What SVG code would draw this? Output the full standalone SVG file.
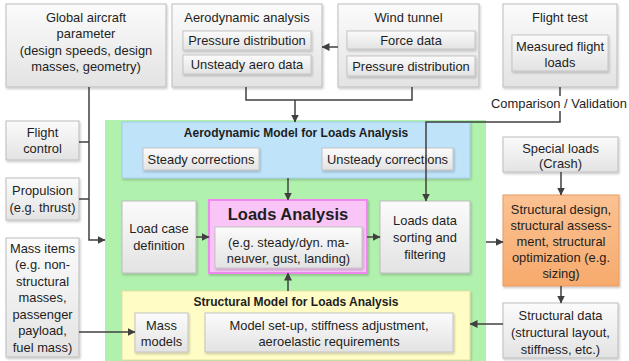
<svg xmlns="http://www.w3.org/2000/svg" width="629" height="361" viewBox="0 0 629 361">
  <defs>
    <linearGradient id="gBox" x1="0" y1="0" x2="0" y2="1">
      <stop offset="0" stop-color="#fbfbfb"/>
      <stop offset="1" stop-color="#e3e3e3"/>
    </linearGradient>
    <linearGradient id="gOrange" x1="0" y1="0" x2="0" y2="1">
      <stop offset="0" stop-color="#fbc293"/>
      <stop offset="1" stop-color="#f7aa6c"/>
    </linearGradient>
    <filter id="shadow" x="-10%" y="-10%" width="125%" height="130%">
      <feDropShadow dx="1" dy="1.5" stdDeviation="1" flood-color="#000" flood-opacity="0.22"/>
    </filter>
    <marker id="arrow" viewBox="0 0 8 8" refX="7.5" refY="4" markerWidth="8" markerHeight="8" markerUnits="userSpaceOnUse" orient="auto">
      <path d="M0,0 L8,4 L0,8 z" fill="#404040"/>
    </marker>
  </defs>
  <style>
    text { font-family: "Liberation Sans", Arial, sans-serif; font-size: 12.9px; fill: #1e1e1e; text-anchor: middle; }
    .title { font-weight: bold; font-size: 12px; }
    .big { font-weight: bold; font-size: 16.5px; }
    .box { fill: url(#gBox); stroke: #bdbdbd; stroke-width: 1; filter: url(#shadow); }
    .inner { fill: url(#gBox); stroke: #c4c4c4; stroke-width: 1; filter: url(#shadow); }
    .conn { fill: none; stroke: #404040; stroke-width: 1.5; }
    .arr { marker-end: url(#arrow); }
  </style>

  <!-- central loads environment -->
  <g id="loads-environment">
    <rect x="105" y="120" width="381" height="243" fill="#b1f1ae"/>
  </g>

  <!-- inputs across the top -->
  <g id="global-aircraft">
    <rect class="box" x="6" y="4" width="160" height="83"/>
    <text x="86" y="21.5">Global aircraft</text>
    <text x="86" y="38">parameter</text>
    <text x="86" y="54.5">(design speeds, design</text>
    <text x="86" y="71">masses, geometry)</text>
  </g>

  <g id="aero-analysis">
    <rect class="box" x="172" y="4" width="150" height="83"/>
    <text x="247" y="21.5">Aerodynamic analysis</text>
    <rect class="inner" x="183" y="31" width="128" height="19"/>
    <text x="247" y="45">Pressure distribution</text>
    <rect class="inner" x="183" y="55" width="128" height="19"/>
    <text x="247" y="69">Unsteady aero data</text>
  </g>

  <g id="wind-tunnel">
    <rect class="box" x="338" y="4" width="141" height="83"/>
    <text x="408.5" y="21.5">Wind tunnel</text>
    <rect class="inner" x="347" y="31" width="128" height="18"/>
    <text x="411" y="44.5">Force data</text>
    <rect class="inner" x="347" y="56" width="128" height="20"/>
    <text x="411" y="70.5">Pressure distribution</text>
  </g>

  <g id="flight-test">
    <rect class="box" x="503" y="4" width="114" height="83"/>
    <text x="560" y="21.5">Flight test</text>
    <rect class="inner" x="512" y="35" width="96" height="36"/>
    <text x="560" y="50.5">Measured flight</text>
    <text x="560" y="66.5">loads</text>
  </g>

  <!-- inputs on the left -->
  <g id="flight-control">
    <rect class="box" x="6" y="121" width="73" height="39"/>
    <text x="42.5" y="136.5">Flight</text>
    <text x="42.5" y="152.5">control</text>
  </g>

  <g id="propulsion">
    <rect class="box" x="6" y="178" width="73" height="42"/>
    <text x="42.5" y="194.5">Propulsion</text>
    <text x="42.5" y="211.5">(e.g. thrust)</text>
  </g>

  <g id="mass-items">
    <rect class="box" x="6" y="238" width="73" height="119"/>
    <text x="42.5" y="252.5">Mass items</text>
    <text x="42.5" y="269">(e.g. non-</text>
    <text x="42.5" y="285.5">structural</text>
    <text x="42.5" y="302">masses,</text>
    <text x="42.5" y="318.5">passenger</text>
    <text x="42.5" y="335">payload,</text>
    <text x="42.5" y="351.5">fuel mass)</text>
  </g>

  <!-- aerodynamic model -->
  <g id="aero-model">
    <rect x="122" y="122" width="348" height="56" fill="#bfe3f9" stroke="#a3cdea" stroke-width="1" filter="url(#shadow)"/>
    <text class="title" x="296" y="137.2">Aerodynamic Model for Loads Analysis</text>
    <rect class="inner" x="143" y="148" width="116" height="22"/>
    <text x="201" y="163.5">Steady corrections</text>
    <rect class="inner" x="322" y="148" width="131" height="22"/>
    <text x="387.5" y="163.5">Unsteady corrections</text>
  </g>

  <g id="load-case">
    <rect class="box" x="122" y="201" width="74" height="72"/>
    <text x="159" y="232.5">Load case</text>
    <text x="159" y="249.5">definition</text>
  </g>

  <g id="loads-analysis">
    <rect x="209" y="200" width="158" height="73" fill="#f9c5f7" stroke="#ee8aec" stroke-width="2" filter="url(#shadow)"/>
    <text class="big" x="288" y="220">Loads Analysis</text>
    <rect class="inner" x="215" y="227" width="147" height="41"/>
    <text x="288.5" y="246.5">(e.g. steady/dyn. ma-</text>
    <text x="288.5" y="262.5">neuver, gust, landing)</text>
  </g>

  <g id="loads-data">
    <rect class="box" x="380" y="201" width="90" height="72"/>
    <text x="425" y="224.5">Loads data</text>
    <text x="425" y="241.5">sorting and</text>
    <text x="425" y="258.5">filtering</text>
  </g>

  <!-- structural model -->
  <g id="structural-model">
    <rect x="122" y="291" width="348" height="69" fill="#fffcc6" stroke="#e8e0a2" stroke-width="1" filter="url(#shadow)"/>
    <text class="title" x="296" y="306.2">Structural Model for Loads Analysis</text>
    <rect class="inner" x="135" y="313" width="53" height="39"/>
    <text x="161.5" y="329.5">Mass</text>
    <text x="161.5" y="345.5">models</text>
    <rect class="inner" x="205" y="313" width="248" height="39"/>
    <text x="329" y="329.5">Model set-up, stiffness adjustment,</text>
    <text x="329" y="345.5">aeroelastic requirements</text>
  </g>

  <!-- structural side -->
  <g id="special-loads">
    <rect class="box" x="503" y="137" width="115" height="35"/>
    <text x="560.5" y="152.5">Special loads</text>
    <text x="560.5" y="167.5">(Crash)</text>
  </g>

  <g id="structural-design">
    <rect x="503" y="195" width="116" height="91" fill="url(#gOrange)" stroke="#e59b62" stroke-width="1" filter="url(#shadow)"/>
    <text x="561" y="213.5">Structural design,</text>
    <text x="561" y="229.5">structural assess-</text>
    <text x="561" y="245.5">ment, structural</text>
    <text x="561" y="261.5">optimization (e.g.</text>
    <text x="561" y="277.5">sizing)</text>
  </g>

  <g id="structural-data">
    <rect class="box" x="503" y="303" width="115" height="55"/>
    <text x="560.5" y="319.5">Structural data</text>
    <text x="560.5" y="336.5">(structural layout,</text>
    <text x="560.5" y="353.5">stiffness, etc.)</text>
  </g>

  <!-- connectors -->
  <g id="connectors">
    <path class="conn arr" d="M89,87 V240 H105"/>
    <path class="conn" d="M79,142 H89"/>
    <path class="conn" d="M79,199 H89"/>
    <path class="conn arr" d="M79,332 H135"/>
    <path class="conn" d="M246,87 V100 H412 V87"/>
    <path class="conn arr" d="M295,100 V122"/>
    <path class="conn arr" d="M338,47 H322"/>
    <path class="conn" d="M560,87 V96"/>
    <text x="559" y="107.5">Comparison / Validation</text>
    <path class="conn arr" d="M560,111 V122 H426 V201"/>
    <path class="conn arr" d="M288,178 V200"/>
    <path class="conn arr" d="M196,237 H209"/>
    <path class="conn arr" d="M367,237 H380"/>
    <path class="conn arr" d="M486,242 H503"/>
    <path class="conn arr" d="M561,172 V195"/>
    <path class="conn arr" d="M561,286 V303"/>
    <path class="conn arr" d="M503,324 H470"/>
    <path class="conn arr" d="M288,291 V273"/>
  </g>
</svg>
